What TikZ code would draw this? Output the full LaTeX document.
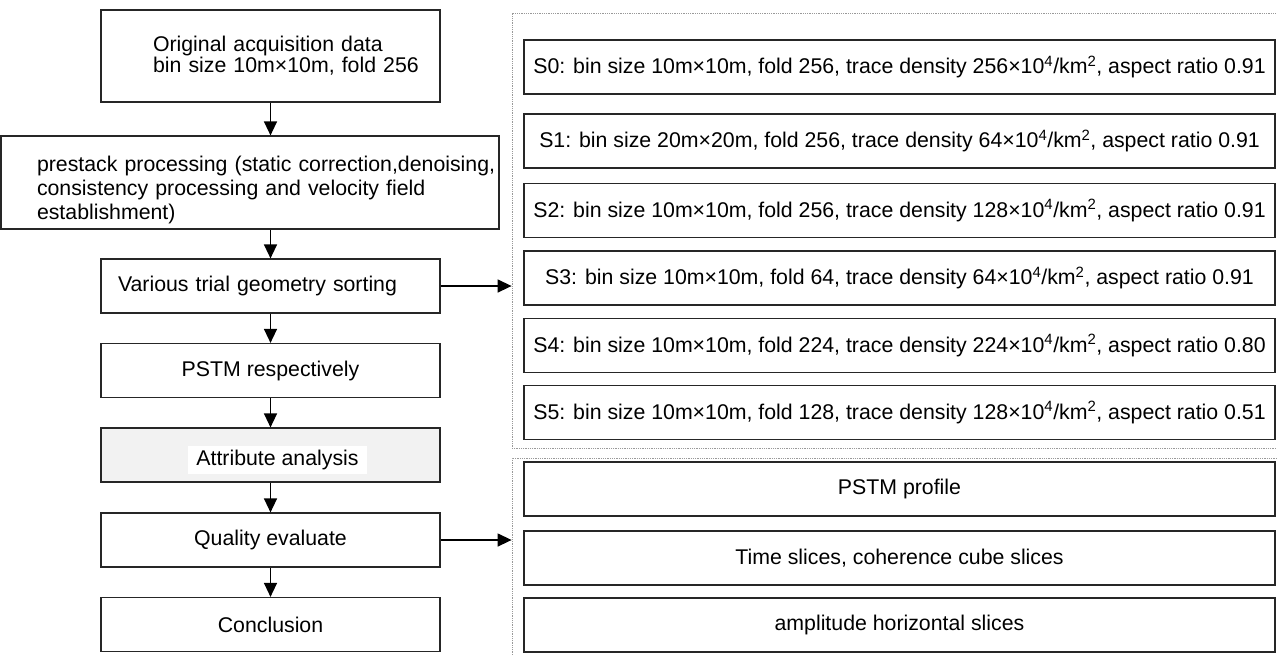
\documentclass[tikz,border=0pt]{standalone}
\usepackage{fontspec}
\setmainfont{Liberation Sans}
\usetikzlibrary{arrows.meta}

\begin{document}
\begin{tikzpicture}[x=1pt,y=-1pt]
	% Styles for the boxes and arrows
	\tikzstyle{stepbox}		= [rectangle, draw=black!85, line width=1.2pt, minimum width=339pt, minimum height=54pt, inner sep=2pt, font=\fontsize{21.3}{24}\selectfont]
	\tikzstyle{schemebox}	= [stepbox, minimum width=751pt]
	\tikzstyle{groupbox}	= [rectangle, draw=black!40, line width=0.8pt, densely dotted, minimum width=770pt]
	\tikzstyle{flow}		= [line width=1.4pt, -{Triangle[length=14pt,width=13pt]}]

	\useasboundingbox (0,0) rectangle (1277,654);

	% Left column
	\node[stepbox, minimum height=92pt, text width=235pt, inner xsep=52pt, align=left, font=\fontsize{21.3}{21}\selectfont]	(original)	at (270.5,56)	{\mbox{Original acquisition data}\\\mbox{bin size 10m×10m, fold 256}};
	\node[stepbox, minimum height=93pt, text width=426pt, inner xsep=36pt, align=left]	(prestack)	at (250,182.5)	{\rule{0pt}{31pt}\mbox{prestack processing (static correction,denoising,}\\\mbox{consistency processing and velocity field}\\establishment)};
	\node[stepbox, text width=305pt, inner xsep=17pt, align=left]	(various)	[below of=prestack, node distance=103.5pt, xshift=20.5pt]	{Various trial geometry sorting};
	\node[stepbox]	(pstm)		[below of=various, node distance=84.5pt]	{PSTM respectively};
	\node[stepbox, fill=black!5]	(attribute)	[below of=pstm, node distance=84.5pt]	{};
	\node[fill=white, inner xsep=8.5pt, inner ysep=0pt, minimum height=28pt, font=\fontsize{21.3}{24}\selectfont]	(attribute_text)	at (277.5,460)	{Attribute analysis};
	\node[stepbox]	(quality)	[below of=attribute, node distance=85pt]	{Quality evaluate};
	\node[stepbox]	(conclusion)	[below of=quality, node distance=84.5pt]	{Conclusion};

	% Trial geometries
	\node[groupbox, minimum height=435pt]	(schemes)	at (897,230.5)	{};
	\node[schemebox]	(s0)	at (899.5,67)	{S0: bin size 10m×10m, fold 256, trace density 256×10\textsuperscript{4}/km\textsuperscript{2}, aspect ratio 0.91};
	\node[schemebox]	(s1)	[below of=s0, node distance=74pt]	{S1: bin size 20m×20m, fold 256, trace density 64×10\textsuperscript{4}/km\textsuperscript{2}, aspect ratio 0.91};
	\node[schemebox]	(s2)	[below of=s1, node distance=69.5pt]	{S2: bin size 10m×10m, fold 256, trace density 128×10\textsuperscript{4}/km\textsuperscript{2}, aspect ratio 0.91};
	\node[schemebox]	(s3)	[below of=s2, node distance=67.5pt]	{S3: bin size 10m×10m, fold 64, trace density 64×10\textsuperscript{4}/km\textsuperscript{2}, aspect ratio 0.91};
	\node[schemebox]	(s4)	[below of=s3, node distance=67.5pt]	{S4: bin size 10m×10m, fold 224, trace density 224×10\textsuperscript{4}/km\textsuperscript{2}, aspect ratio 0.80};
	\node[schemebox]	(s5)	[below of=s4, node distance=67pt]	{S5: bin size 10m×10m, fold 128, trace density 128×10\textsuperscript{4}/km\textsuperscript{2}, aspect ratio 0.51};

	% Evaluation results
	\node[groupbox, minimum height=206pt]	(results)	at (897,561)	{};
	\node[schemebox]	(profile)	at (899.5,489)	{PSTM profile};
	\node[schemebox]	(slices)	[below of=profile, node distance=69pt]	{Time slices, coherence cube slices};
	\node[schemebox]	(amplitude)	[below of=slices, node distance=67pt]	{amplitude horizontal slices};

	% Arrows
	\draw[flow] (original.south) -- (original.south |- prestack.north);
	\draw[flow] (prestack.south -| various) -- (various.north);
	\draw[flow] (various) -- (pstm);
	\draw[flow] (pstm) -- (attribute);
	\draw[flow] (attribute) -- (quality);
	\draw[flow] (quality) -- (conclusion);
	\draw[flow] (various.east) -- (various.east -| schemes.west);
	\draw[flow] (quality.east) -- (quality.east -| results.west);
\end{tikzpicture}
\end{document}
